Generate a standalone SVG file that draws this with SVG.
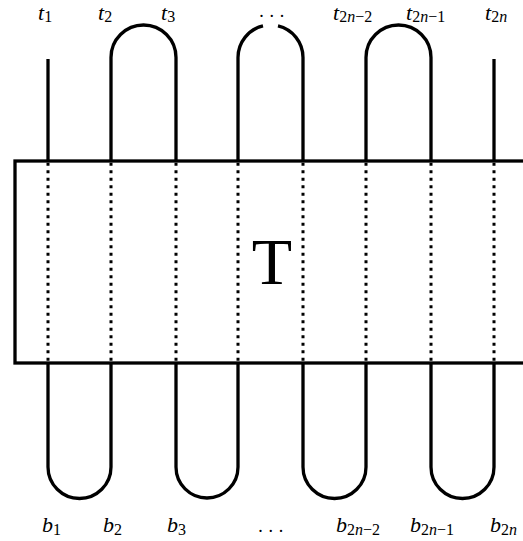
<svg xmlns="http://www.w3.org/2000/svg" width="523" height="541" viewBox="0 0 523 541">
<style>
.s{fill:none;stroke:#000;stroke-width:3.3;stroke-linecap:butt}
.d{fill:none;stroke:#000;stroke-width:3;stroke-dasharray:3 4.5}
.box{fill:#fff;stroke:#000;stroke-width:3.3}
.lab{font-family:"Liberation Serif","Times New Roman",serif;font-size:22px;font-style:italic;fill:#000}
.sub{font-size:16px;font-style:normal}
.si{font-style:italic}
.big{font-family:"Liberation Serif","Times New Roman",serif;font-size:66px;fill:#000}
.dots{font-family:"Liberation Serif","Times New Roman",serif;font-size:18px;fill:#000;letter-spacing:0.6px}
</style>
<rect width="523" height="541" fill="#fff"/>
<g id="T">
<rect class="box" x="15" y="161" width="530" height="202"/>
<text class="big" x="272" y="284" text-anchor="middle">T</text>
</g>
<g id="connectors">
<path class="s" d="M48 59V161"/>
<path class="s" d="M111 161V57.5A32.5 32.5 0 0 1 176 57.5V161"/>
<path class="s" d="M238 161V57.5A32.5 32.5 0 0 1 263 25.9"/>
<path class="s" d="M278 25.9A32.5 32.5 0 0 1 303 57.5V161"/>
<path class="s" d="M366 161V57.5A32.5 32.5 0 0 1 431 57.5V161"/>
<path class="s" d="M494 59V161"/>
<path class="s" d="M48 363V467A31.5 31.5 0 0 0 111 467V363"/>
<path class="s" d="M176 363V467A31 31 0 0 0 238 467V363"/>
<path class="s" d="M303 363V467A31.5 31.5 0 0 0 366 467V363"/>
<path class="s" d="M431 363V467A31.5 31.5 0 0 0 494 467V363"/>
<g id="dotted">
<path class="d" d="M48 162.7V362"/>
<path class="d" d="M111 162.7V362"/>
<path class="d" d="M176 162.7V362"/>
<path class="d" d="M238 162.7V362"/>
<path class="d" d="M303 162.7V362"/>
<path class="d" d="M366 162.7V362"/>
<path class="d" d="M431 162.7V362"/>
<path class="d" d="M494 162.7V362"/>
</g>
</g>
<g id="top-labels">
<text class="lab" x="38" y="19.8">t<tspan class="sub" dy="2">1</tspan></text>
<text class="lab" x="98" y="19.8">t<tspan class="sub" dy="2">2</tspan></text>
<text class="lab" x="161" y="19.8">t<tspan class="sub" dy="2">3</tspan></text>
<text class="dots" x="272" y="16.5" text-anchor="middle">. . .</text>
<text class="lab" x="333" y="19.8">t<tspan class="sub" dy="2">2<tspan class="si">n</tspan>−2</tspan></text>
<text class="lab" x="406" y="19.8">t<tspan class="sub" dy="2">2<tspan class="si">n</tspan>−1</tspan></text>
<text class="lab" x="485" y="19.8">t<tspan class="sub" dy="2">2<tspan class="si">n</tspan></tspan></text>
</g>
<g id="bottom-labels">
<text class="lab" x="42" y="532">b<tspan class="sub" dy="3">1</tspan></text>
<text class="lab" x="103" y="532">b<tspan class="sub" dy="3">2</tspan></text>
<text class="lab" x="167" y="532">b<tspan class="sub" dy="3">3</tspan></text>
<text class="dots" x="271" y="532" text-anchor="middle">. . .</text>
<text class="lab" x="336" y="532">b<tspan class="sub" dy="3">2<tspan class="si">n</tspan>−2</tspan></text>
<text class="lab" x="410" y="532">b<tspan class="sub" dy="3">2<tspan class="si">n</tspan>−1</tspan></text>
<text class="lab" x="490" y="532">b<tspan class="sub" dy="3">2<tspan class="si">n</tspan></tspan></text>
</g>
</svg>
